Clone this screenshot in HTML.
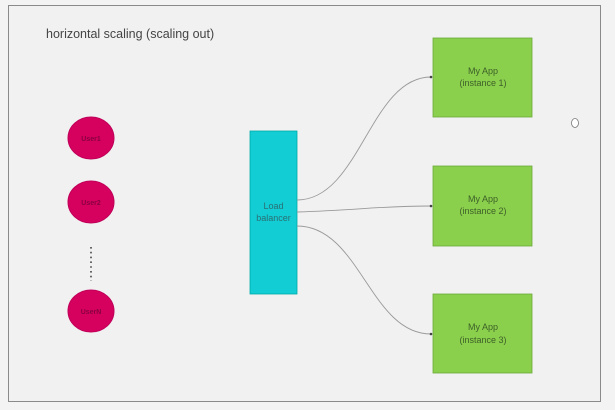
<!DOCTYPE html>
<html><head><style>
body{margin:0;background:#f3f3f3;}
svg{display:block;}
</style></head><body>
<svg width="615" height="410" viewBox="0 0 615 410" xmlns="http://www.w3.org/2000/svg" font-family="Liberation Sans, sans-serif">
<rect x="0" y="0" width="615" height="410" fill="#f3f3f3"/>
<rect x="8.5" y="5.5" width="592" height="396" fill="#f1f1f1" stroke="#8a8a8a" stroke-width="1"/>
<text x="46" y="38" font-size="12.5" fill="#444">horizontal scaling (scaling out)</text>
<g fill="#d6005e" stroke="#c0005a">
<ellipse cx="91" cy="138" rx="23" ry="21"/>
<ellipse cx="91" cy="202" rx="23" ry="21"/>
<ellipse cx="91" cy="311" rx="23" ry="21"/>
</g>
<g font-size="7" fill="#8a0040" text-anchor="middle" font-weight="bold">
<text x="91" y="141">User1</text>
<text x="91" y="205">User2</text>
<text x="91" y="314">UserN</text>
</g>
<line x1="91" y1="247" x2="91" y2="281" stroke="#444" stroke-width="1.6" stroke-dasharray="1.6 3.2"/>
<rect x="250" y="131" width="47" height="163" fill="#12cdd3" stroke="#0aa" stroke-width="0.8"/>
<g font-size="9" fill="#2a7075" text-anchor="middle">
<text x="273.5" y="209">Load</text>
<text x="273.5" y="221">balancer</text>
</g>
<g fill="none" stroke="#9a9a9a" stroke-width="0.9">
<path d="M297,200 C360,200 370,77 431,77"/>
<path d="M297,212 C360,210 380,206 431,206"/>
<path d="M297,226 C360,226 370,334 431,334"/>
</g>
<g fill="#444">
<circle cx="431" cy="77" r="1.3"/><circle cx="431" cy="206" r="1.3"/><circle cx="431" cy="334" r="1.3"/>
</g>
<g fill="#8bd04c" stroke="#6aa83a" stroke-width="0.8">
<rect x="433" y="38" width="99" height="79"/>
<rect x="433" y="166" width="99" height="80"/>
<rect x="433" y="294" width="99" height="79"/>
</g>
<g font-size="9" fill="#3d5f2a" text-anchor="middle">
<text x="483" y="74">My App</text><text x="483" y="86">(instance 1)</text>
<text x="483" y="202">My App</text><text x="483" y="214">(instance 2)</text>
<text x="483" y="330">My App</text><text x="483" y="343">(instance 3)</text>
</g>
<ellipse cx="575" cy="123" rx="3.5" ry="4.5" fill="#fff" stroke="#777" stroke-width="0.8"/>
</svg>
</body></html>
